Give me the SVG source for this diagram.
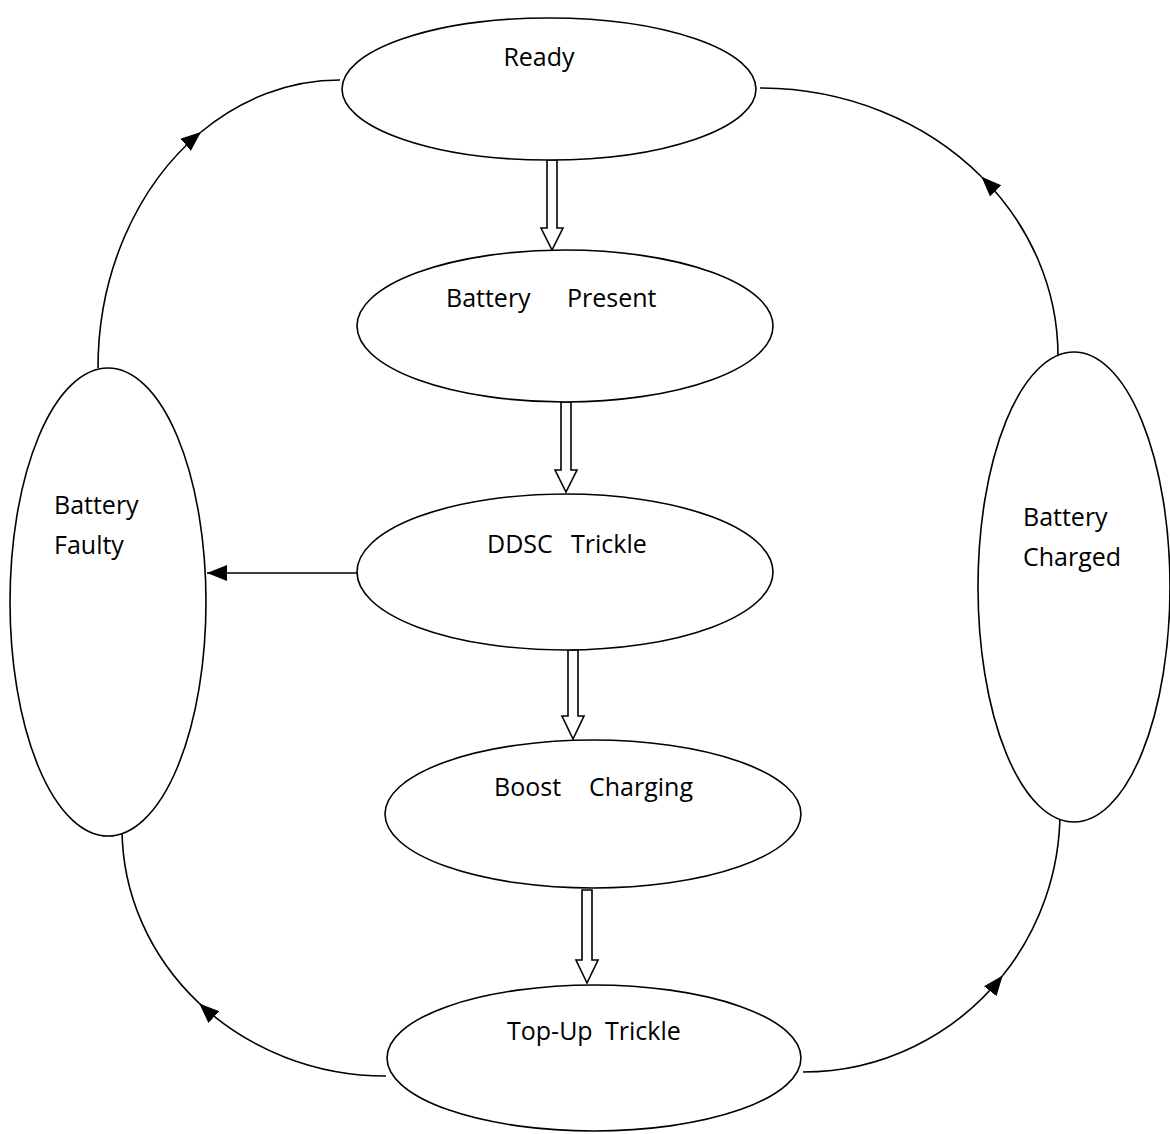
<svg xmlns="http://www.w3.org/2000/svg" width="1170" height="1134" viewBox="0 0 1170 1134">
<style>
.node{fill:#fff;stroke:#000;stroke-width:1.6}
.lbl{font-family:"Open Sans","Liberation Sans",sans-serif;font-size:25px;fill:#000}
.arc{fill:none;stroke:#000;stroke-width:1.6}
.hollow{fill:#fff;stroke:#000;stroke-width:1.6;stroke-linejoin:miter}
</style>
<defs>
<marker id="ah" markerUnits="userSpaceOnUse" markerWidth="24" markerHeight="18" refX="20" refY="8" orient="auto">
<path d="M0,0 L20,8 L0,16 Z" fill="#000"/>
</marker>
</defs>
<rect width="1170" height="1134" fill="#fff"/>
<g id="connectors">
<path class="arc" d="M98,368 A242,288 0 0 1 201,132" marker-end="url(#ah)"/>
<path class="arc" d="M201,132 A242,288 0 0 1 340,80"/>
<path class="arc" d="M1058,356 A298,268 0 0 0 981.5,176.7" marker-end="url(#ah)"/>
<path class="arc" d="M981.5,176.7 A298,268 0 0 0 760,88"/>
<path class="arc" d="M386,1076 A264,248 0 0 1 199.3,1003.4" marker-end="url(#ah)"/>
<path class="arc" d="M199.3,1003.4 A264,248 0 0 1 122,828"/>
<path class="arc" d="M803,1072 A257,260 0 0 0 1002.7,975.6" marker-end="url(#ah)"/>
<path class="arc" d="M1002.7,975.6 A257,260 0 0 0 1060,812"/>
<path class="arc" d="M357,573 L207,573" marker-end="url(#ah)"/>
<polygon class="hollow" points="547,160 557,160 557,228 563,228 552,250 541,228 547,228"/>
<polygon class="hollow" points="561,402 571,402 571,470 577,470 566,492 555,470 561,470"/>
<polygon class="hollow" points="568,650 578,650 578,716 584,716 573,739 562,716 568,716"/>
<polygon class="hollow" points="582,890 592,890 592,960 598,960 587,983 576,960 582,960"/>
</g>
<g id="ready">
<ellipse class="node" cx="549" cy="89" rx="207" ry="71"/>
<text class="lbl" x="539" y="66" text-anchor="middle">Ready</text>
</g>
<g id="battery-present">
<ellipse class="node" cx="565" cy="326" rx="208" ry="76"/>
<text class="lbl" x="446" y="307">Battery</text>
<text class="lbl" x="567" y="307">Present</text>
</g>
<g id="ddsc-trickle">
<ellipse class="node" cx="565" cy="572" rx="208" ry="78"/>
<text class="lbl" x="487" y="553">DDSC</text>
<text class="lbl" x="571" y="553">Trickle</text>
</g>
<g id="boost-charging">
<ellipse class="node" cx="593" cy="814" rx="208" ry="74"/>
<text class="lbl" x="494" y="796">Boost</text>
<text class="lbl" x="589" y="796">Charging</text>
</g>
<g id="top-up-trickle">
<ellipse class="node" cx="594" cy="1058" rx="207" ry="73"/>
<text class="lbl" x="507" y="1040">Top-Up</text>
<text class="lbl" x="605" y="1040">Trickle</text>
</g>
<g id="battery-faulty">
<ellipse class="node" cx="108" cy="602" rx="98" ry="234"/>
<text class="lbl" x="54" y="514">Battery</text>
<text class="lbl" x="54" y="554">Faulty</text>
</g>
<g id="battery-charged">
<ellipse class="node" cx="1074" cy="587" rx="96" ry="235"/>
<text class="lbl" x="1023" y="526">Battery</text>
<text class="lbl" x="1023" y="566">Charged</text>
</g>
</svg>
